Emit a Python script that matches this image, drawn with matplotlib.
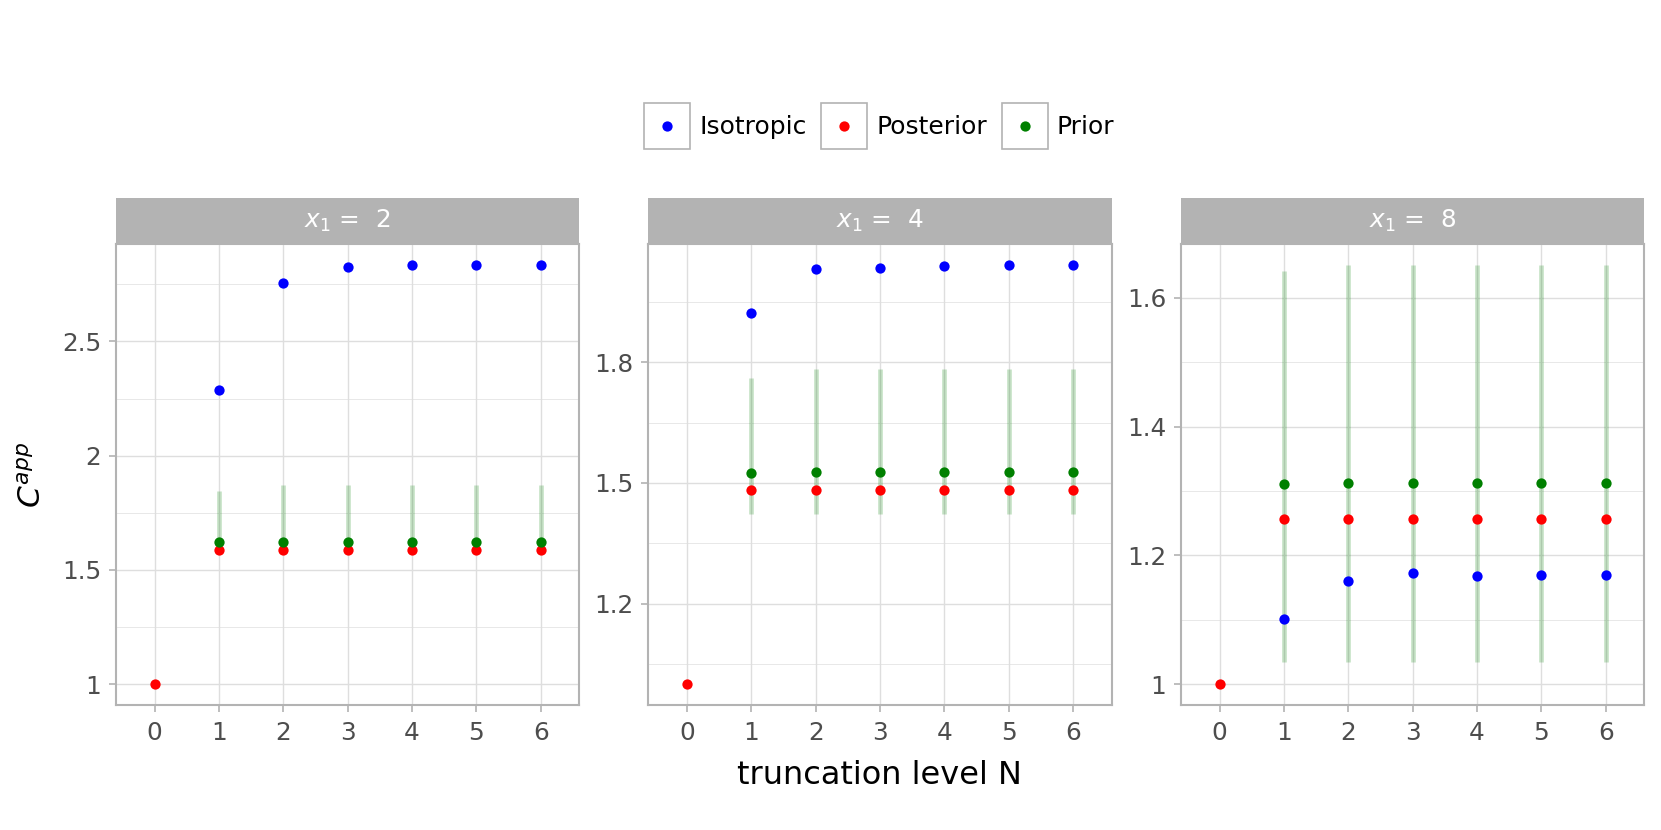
import numpy as np
import matplotlib
matplotlib.use("Agg")
import matplotlib.pyplot as plt
from matplotlib.lines import Line2D
from matplotlib.patches import Rectangle
from matplotlib.legend_handler import HandlerBase
from matplotlib.ticker import FuncFormatter

nan = np.nan

# ---------------- data ----------------
N = [0, 1, 2, 3, 4, 5, 6]
facet_values = ["2", "4", "8"]
series_names = ["Isotropic", "Posterior", "Prior"]
series_colors = ["#0000ff", "#ff0000", "#008000"]

iso_x2 = [nan, 2.289, 2.758, 2.826, 2.835, 2.835, 2.835]
post_x2 = [1.0, 1.585, 1.585, 1.585, 1.585, 1.585, 1.585]
prior_x2 = [nan, 1.624, 1.624, 1.624, 1.624, 1.624, 1.624]
prior_lo_x2 = [nan, 1.60, 1.60, 1.60, 1.60, 1.60, 1.60]
prior_hi_x2 = [nan, 1.844, 1.870, 1.870, 1.870, 1.870, 1.870]

iso_x4 = [nan, 1.9215, 2.033, 2.035, 2.040, 2.042, 2.042]
post_x4 = [1.0, 1.483, 1.483, 1.483, 1.483, 1.483, 1.483]
prior_x4 = [nan, 1.526, 1.527, 1.527, 1.527, 1.527, 1.527]
prior_lo_x4 = [nan, 1.4216, 1.4216, 1.4216, 1.4216, 1.4216, 1.4216]
prior_hi_x4 = [nan, 1.760, 1.784, 1.784, 1.784, 1.784, 1.784]

iso_x8 = [nan, 1.1016, 1.1606, 1.1725, 1.168, 1.1694, 1.1694]
post_x8 = [1.0, 1.2565, 1.2565, 1.2565, 1.2565, 1.2565, 1.2565]
prior_x8 = [nan, 1.310, 1.312, 1.312, 1.312, 1.312, 1.312]
prior_lo_x8 = [nan, 1.035, 1.035, 1.035, 1.035, 1.035, 1.035]
prior_hi_x8 = [nan, 1.6415, 1.651, 1.651, 1.651, 1.651, 1.651]

yticks_x2 = [1, 1.5, 2, 2.5]
yminor_x2 = [1.25, 1.75, 2.25, 2.75]
yticks_x4 = [1.2, 1.5, 1.8]
yminor_x4 = [1.05, 1.35, 1.65, 1.95]
yticks_x8 = [1, 1.2, 1.4, 1.6]
yminor_x8 = [1.1, 1.3, 1.5]

panels = [
    (iso_x2, post_x2, prior_x2, prior_lo_x2, prior_hi_x2, yticks_x2, yminor_x2),
    (iso_x4, post_x4, prior_x4, prior_lo_x4, prior_hi_x4, yticks_x4, yminor_x4),
    (iso_x8, post_x8, prior_x8, prior_lo_x8, prior_hi_x8, yticks_x8, yminor_x8),
]

# ---------------- style ----------------
GRAY70 = "#b3b3b3"
GRID = "#dedede"
TXT = "#4d4d4d"
plt.rcParams["font.family"] = ["DejaVu Sans"]
plt.rcParams["mathtext.fontset"] = "dejavusans"

fig = plt.figure(figsize=(16.61, 8.30), dpi=100)

lefts = [0.0698, 0.3903, 0.711]
pw = 0.279
bottom = 0.1506
top = 0.706
strip_h = 0.055

fmt = FuncFormatter(lambda v, p: f"{v:g}")
handles = None

for i, (iso, post, prior, lo, hi, yt, ym) in enumerate(panels):
    ax = fig.add_axes([lefts[i], bottom, pw, top - bottom])
    ax.set_facecolor("white")
    ax.vlines(N, lo, hi, colors="#008000", alpha=0.22, linewidth=3.4, zorder=2)
    h_iso, = ax.plot(N, iso, "o", color=series_colors[0], markersize=7.4,
                     markeredgewidth=0, zorder=3, label=series_names[0])
    h_post, = ax.plot(N, post, "o", color=series_colors[1], markersize=7.4,
                      markeredgewidth=0, zorder=3, label=series_names[1])
    h_prior, = ax.plot(N, prior, "o", color=series_colors[2], markersize=7.4,
                       markeredgewidth=0, zorder=3, label=series_names[2])
    if handles is None:
        handles = [h_iso, h_post, h_prior]
    ax.margins(y=0.05)
    ax.set_xlim(-0.6, 6.6)
    ax.set_xticks(N)
    ax.set_yticks(yt)
    ax.set_yticks(ym, minor=True)
    ax.yaxis.set_major_formatter(fmt)
    ax.grid(True, which="major", color=GRID, linewidth=1.0, zorder=0)
    ax.grid(True, which="minor", axis="y", color=GRID, linewidth=0.5, zorder=0)
    ax.set_axisbelow(True)
    for s in ax.spines.values():
        s.set_color(GRAY70)
        s.set_linewidth(1.5)
    ax.tick_params(which="major", length=5, width=1.2, color=GRAY70,
                   labelcolor=TXT, labelsize=17.8)
    ax.tick_params(axis="x", pad=6.5)
    ax.tick_params(axis="y", pad=5.5)
    ax.tick_params(which="minor", length=0)

    sax = fig.add_axes([lefts[i], top, pw, strip_h])
    sax.set_facecolor(GRAY70)
    sax.set_xticks([])
    sax.set_yticks([])
    for s in sax.spines.values():
        s.set_visible(False)
    sax.text(0.5, 0.5, r"$x_1$ =  " + facet_values[i], color="white",
             fontsize=17.8, ha="center", va="center", transform=sax.transAxes)


class BoxKey(HandlerBase):
    def create_artists(self, legend, orig_handle, xdescent, ydescent,
                       width, height, fontsize, trans):
        rect = Rectangle((-xdescent, -ydescent), width, height,
                         facecolor="white", edgecolor=GRAY70, linewidth=1.2,
                         transform=trans)
        m = Line2D([-xdescent + width / 2], [-ydescent + height / 2],
                   marker="o", linestyle="none", markersize=7.4,
                   markeredgewidth=0, color=orig_handle.get_color(),
                   transform=trans)
        return [rect, m]


fig.legend(handles, series_names, loc="center", bbox_to_anchor=(0.5295, 0.848),
           ncol=3, frameon=False, fontsize=18, handlelength=1.84,
           handleheight=2.45, handletextpad=0.36, columnspacing=0.59,
           borderpad=0, handler_map={Line2D: BoxKey()})

fig.text(0.5295, 0.0554, "truncation level N", ha="center", va="baseline",
         fontsize=23)
fig.text(0.0195, 0.428, r"$C^{app}$", rotation=90, ha="center", va="center",
         fontsize=22.5)

fig.savefig("out.png", dpi=100, facecolor="white")
